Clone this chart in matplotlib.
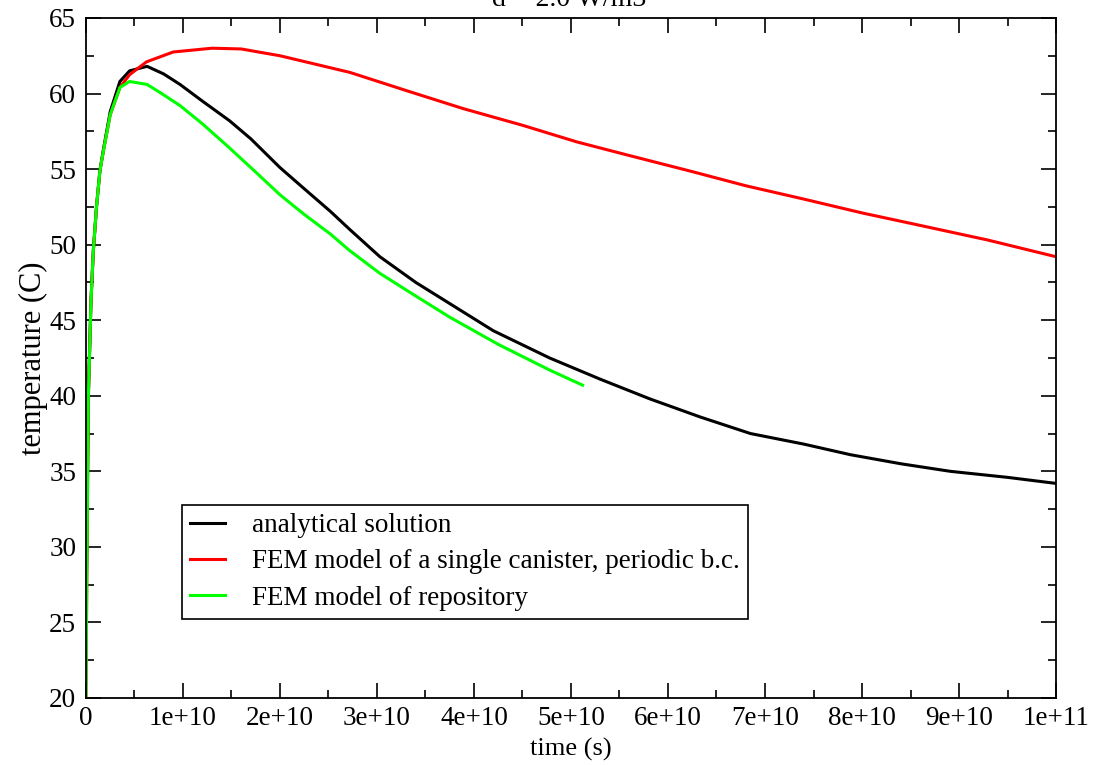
import matplotlib
matplotlib.use("Agg")
import matplotlib.pyplot as plt
from matplotlib.ticker import MultipleLocator, FuncFormatter

# datos (tiempo en s, temperatura en C)
t_analytical = [0, 7e7, 2.4e8, 5.2e8, 7.6e8, 1.1e9, 1.44e9, 1.8e9, 2.5e9, 3.5e9,
                4.5e9, 6.3e9, 8e9, 9.7e9, 1.2e10, 1.48e10, 1.7e10, 2.0e10, 2.25e10,
                2.52e10, 2.72e10, 3.03e10, 3.4e10, 3.75e10, 4.2e10, 4.78e10, 5.3e10,
                5.81e10, 6.33e10, 6.85e10, 7.4e10, 7.88e10, 8.4e10, 8.91e10, 9.5e10, 1e11]
T_analytical = [26.8, 29.0, 39.9, 46.3, 49.6, 52.6, 54.9, 56.3, 58.8, 60.8,
                61.5, 61.8, 61.3, 60.6, 59.5, 58.2, 57.0, 55.1, 53.7,
                52.2, 51.0, 49.2, 47.5, 46.1, 44.3, 42.5, 41.1,
                39.8, 38.6, 37.5, 36.8, 36.1, 35.5, 35.0, 34.6, 34.2]

t_single = [0, 7e7, 2.4e8, 5.2e8, 7.6e8, 1.1e9, 1.44e9, 1.8e9, 2.5e9, 3.5e9,
            4.5e9, 6.25e9, 9e9, 1.3e10, 1.6e10, 2.0e10, 2.72e10, 3.3e10, 3.89e10,
            4.5e10, 5.06e10, 5.6e10, 6.24e10, 6.8e10, 7.41e10, 8e10, 8.58e10,
            9.3e10, 1e11]
T_single = [20.0, 26.5, 39.7, 46.3, 49.6, 52.6, 54.9, 56.2, 58.6, 60.4,
            61.25, 62.1, 62.75, 63.0, 62.95, 62.5, 61.4, 60.2, 59.0,
            57.9, 56.8, 55.9, 54.85, 53.9, 53.0, 52.1, 51.3,
            50.3, 49.2]

t_repo = [0, 7e7, 2.4e8, 5.2e8, 7.6e8, 1.1e9, 1.44e9, 1.8e9, 2.5e9, 3.5e9,
          4.5e9, 6.3e9, 7.8e9, 9.7e9, 1.2e10, 1.48e10, 1.75e10, 2.0e10, 2.25e10,
          2.52e10, 2.72e10, 3.03e10, 3.4e10, 3.75e10, 4.25e10, 4.78e10, 5.12e10]
T_repo = [20.0, 26.5, 39.7, 46.3, 49.6, 52.6, 54.9, 56.2, 58.6, 60.4,
          60.8, 60.6, 60.0, 59.2, 58.0, 56.4, 54.8, 53.3, 52.0,
          50.7, 49.6, 48.1, 46.6, 45.2, 43.4, 41.7, 40.7]

plt.rcParams['font.family'] = ['Liberation Serif', 'DejaVu Serif']

fig = plt.figure(figsize=(10.95, 7.65), dpi=100)
ax = fig.add_axes([0.0785, 0.0876, 0.9644 - 0.0785, 0.9765 - 0.0876])

ax.plot(t_analytical, T_analytical, color='black', lw=2.2, label='analytical solution')
ax.plot(t_single, T_single, color='#ff0000', lw=2.2,
        label='FEM model of a single canister, periodic b.c.')
ax.plot(t_repo, T_repo, color='#00ff00', lw=2.2, label='FEM model of repository')

ax.set_xlim(0, 1e11)
ax.set_ylim(20, 65)
ax.xaxis.set_major_locator(MultipleLocator(1e10))
ax.xaxis.set_minor_locator(MultipleLocator(5e9))
ax.yaxis.set_major_locator(MultipleLocator(5))
ax.yaxis.set_minor_locator(MultipleLocator(2.5))


def fmt_x(v, pos):
    if v == 0:
        return '0'
    e = int(f"{v:e}".split('e')[1])
    return f"{v / 10 ** e:g}e+{e}"


ax.xaxis.set_major_formatter(FuncFormatter(fmt_x))
ax.tick_params(which='both', direction='in', top=True, right=True, width=1.2)
ax.tick_params(which='major', length=11, labelsize=19.5)
ax.tick_params(axis='x', which='major', pad=6)
ax.tick_params(axis='y', which='major', pad=7)
ax.tick_params(which='minor', length=6)
for s in ax.spines.values():
    s.set_linewidth(1.3)

ax.set_xlabel('time (s)', fontsize=19, labelpad=5)
ax.set_ylabel('temperature (C)', fontsize=22, labelpad=1)

# titulo cortado por el borde superior, como en la original
fig.text(0.52, 0.992, 'd = 2.0 W/m3', ha='center', va='baseline', fontsize=20)

leg = ax.legend(loc='upper left', bbox_to_anchor=(0.099, 0.284), fontsize=19.5,
                frameon=True, fancybox=False, edgecolor='black', framealpha=1,
                handlelength=1.3, handletextpad=1.0, labelspacing=0.42,
                borderpad=0.3, borderaxespad=0)
leg.get_frame().set_linewidth(1.2)

plt.savefig("out.png", dpi=100)
